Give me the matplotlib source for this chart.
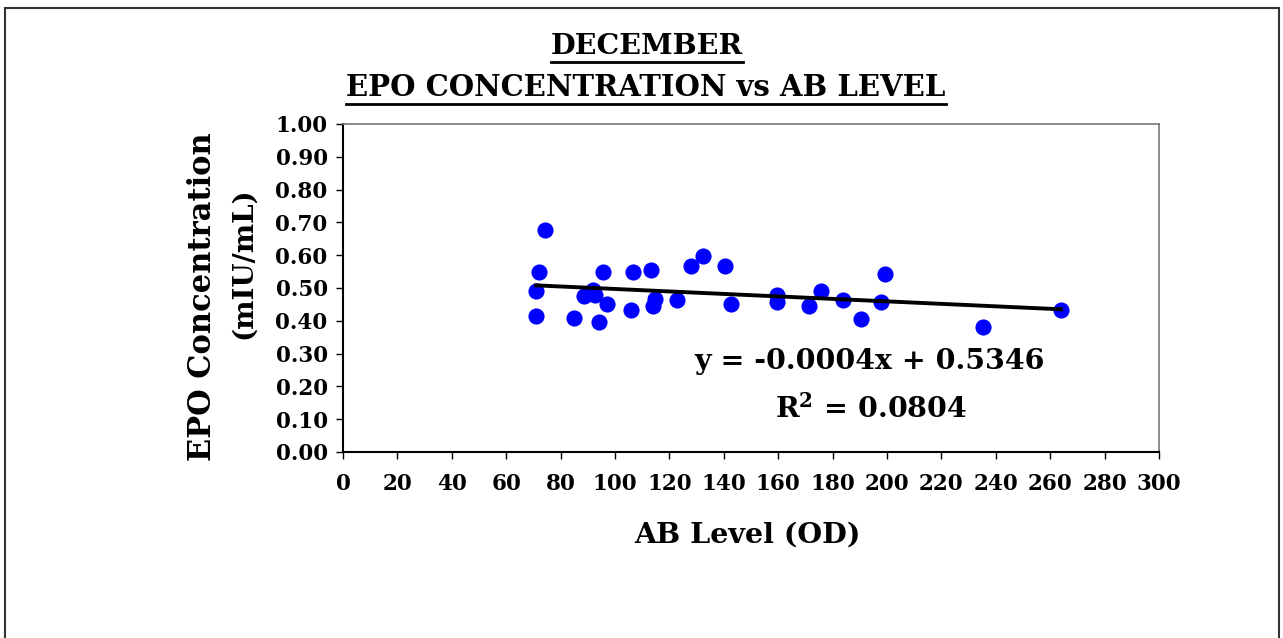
import numpy as np
import matplotlib
matplotlib.use("Agg")
import matplotlib.pyplot as plt
from matplotlib.lines import Line2D
from matplotlib.patches import Rectangle

# AB level (OD) and EPO concentration (mIU/mL)
ab_level = [71, 71, 72, 74.3, 84.9, 88.5, 92, 92.8, 94.1, 95.6, 97,
            105.9, 106.6, 113.2, 114.7, 114, 122.8, 127.9, 132.4, 140.4, 142.6,
            159.6, 159.6, 171.3, 175.7, 183.8, 190.4, 197.8, 199.3, 235.3, 264]
epo = [0.415, 0.491, 0.549, 0.677, 0.409, 0.476, 0.494, 0.479, 0.396, 0.549, 0.451,
       0.433, 0.549, 0.555, 0.466, 0.445, 0.463, 0.567, 0.598, 0.567, 0.451,
       0.479, 0.457, 0.445, 0.491, 0.463, 0.405, 0.457, 0.543, 0.381, 0.433]

eq_text = "y = -0.0004x + 0.5346"
r2_text = "R$^\\mathbf{2}$ = 0.0804"

plt.rcParams['font.family'] = ['DejaVu Serif']
plt.rcParams['font.weight'] = 'bold'
plt.rcParams['mathtext.fontset'] = 'dejavuserif'

W, H = 1283, 638
fig = plt.figure(figsize=(W / 100, H / 100), dpi=100)

# outer chart border (bottom edge runs off the image)
fig.patches.append(Rectangle((5 / W, -0.05), 1274 / W, 1 - 8 / H + 0.05,
                             transform=fig.transFigure, fill=False,
                             edgecolor='#333333', linewidth=1.5))

ax = fig.add_axes([343 / W, 1 - 452 / H, (1159 - 343) / W, (452 - 124) / H])
ax.scatter(ab_level, epo, s=135, color='#0000ff', zorder=3, linewidths=0)

slope, intercept = np.polyfit(ab_level, epo, 1)
xs = np.array([min(ab_level), max(ab_level)])
ax.plot(xs, slope * xs + intercept, color='black', linewidth=2.8, zorder=4)

ax.set_xlim(0, 300)
ax.set_ylim(0, 1)
ax.set_xticks(np.arange(0, 301, 20))
ax.set_yticks(np.arange(0, 1.01, 0.1))
ax.set_yticklabels(["%.2f" % v for v in np.arange(0, 1.01, 0.1)])
ax.tick_params(direction='out', length=5, width=1, labelsize=15.5)
ax.tick_params(axis='x', pad=10)
ax.tick_params(axis='y', pad=6)
for lab in ax.get_xticklabels() + ax.get_yticklabels():
    lab.set_fontweight('bold')

for s in ['left', 'bottom']:
    ax.spines[s].set_linewidth(1.5)
    ax.spines[s].set_color('black')
for s in ['top', 'right']:
    ax.spines[s].set_linewidth(1.2)
    ax.spines[s].set_color('#777777')

ax.text(0.645, 0.277, eq_text, transform=ax.transAxes, ha='center', va='center',
        fontsize=20.5, fontweight='bold')
ax.text(0.647, 0.131, r2_text, transform=ax.transAxes, ha='center', va='center',
        fontsize=20.5, fontweight='bold')

fig.text(202 / W, 1 - 297 / H, "EPO Concentration", rotation=90, ha='center',
         va='center', fontsize=22, fontweight='bold')
fig.text(243 / W, 1 - 263 / H, "(mIU/mL)", rotation=90, ha='center',
         va='center', fontsize=20, fontweight='bold')
fig.text(748 / W, 1 - 535 / H, "AB Level (OD)", ha='center', va='center',
         fontsize=20.5, fontweight='bold')

t1 = fig.text(647 / W, 1 - 47 / H, "DECEMBER", ha='center', va='center',
              fontsize=20.5, fontweight='bold')
t2 = fig.text(646 / W, 1 - 88 / H, "EPO CONCENTRATION vs AB LEVEL", ha='center',
              va='center', fontsize=21, fontweight='bold')

# underline the title lines
fig.canvas.draw()
r = fig.canvas.get_renderer()
for t in [t1, t2]:
    bb = t.get_window_extent(r)
    y = bb.y0 - 1
    fig.add_artist(Line2D([bb.x0 / W, bb.x1 / W], [y / H, y / H],
                          transform=fig.transFigure, color='black', linewidth=2))

fig.savefig("out.png", dpi=100)
